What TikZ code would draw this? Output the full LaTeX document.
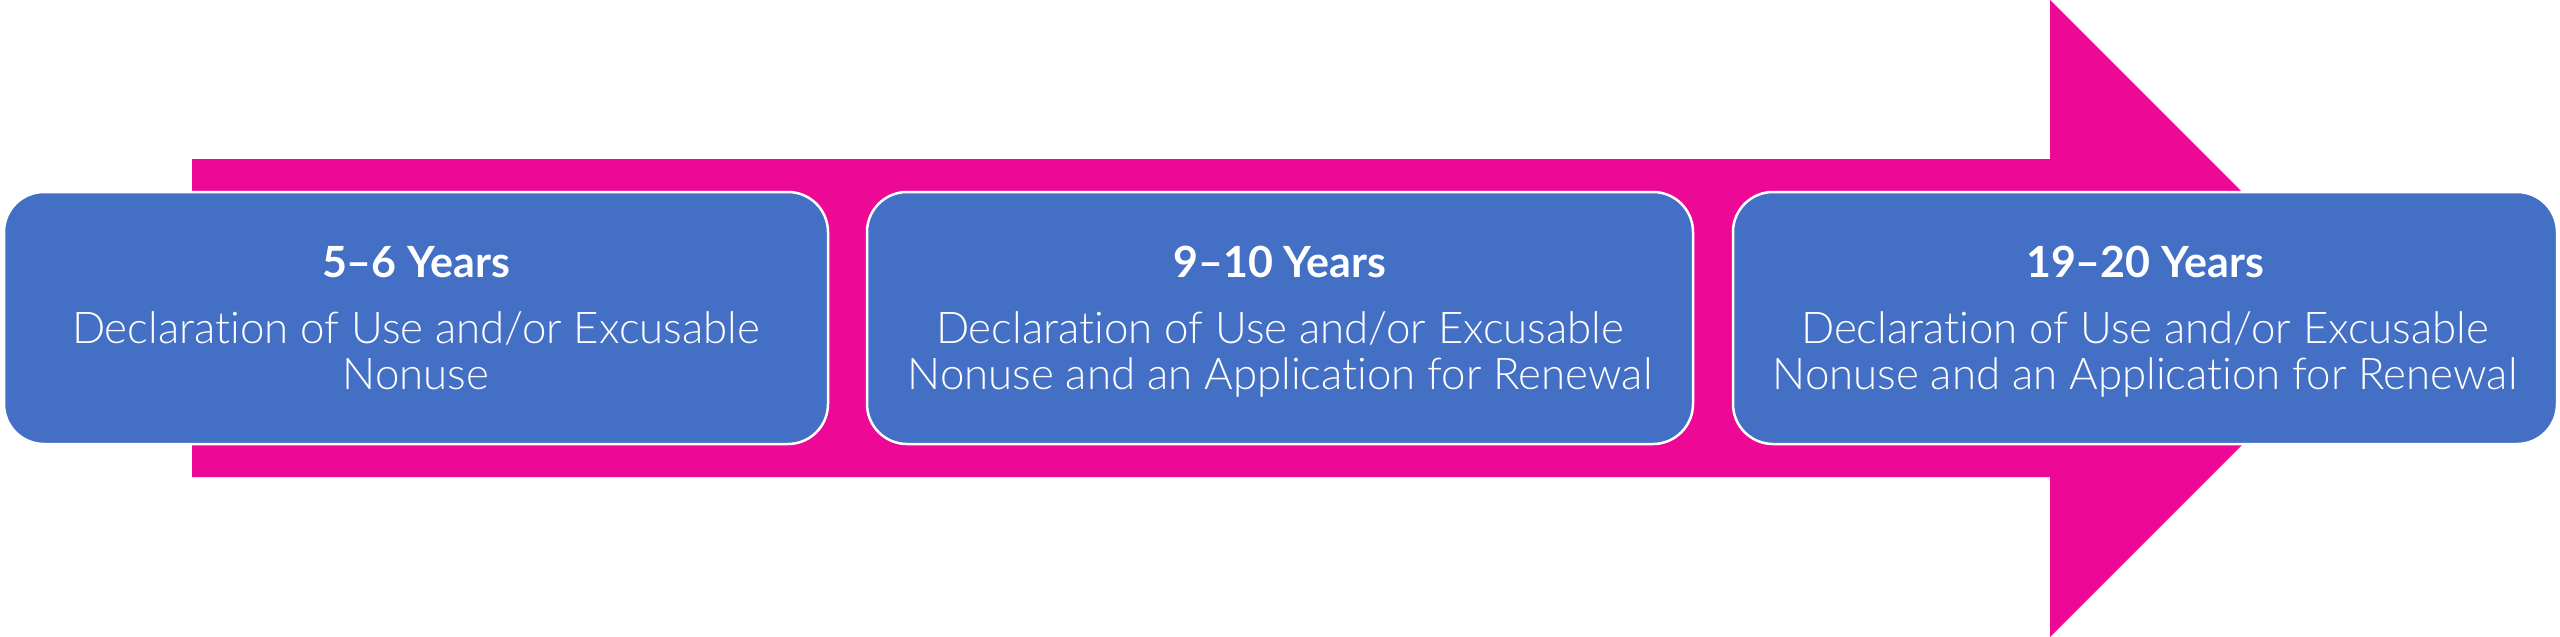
\documentclass[tikz,border=0pt]{standalone}
\usepackage{fontspec}
\setmainfont{Lato}[UprightFont=* Light, BoldFont=* Bold, Ligatures=NoCommon]
\definecolor{arrowpink}{HTML}{EE0896}
\definecolor{boxblue}{HTML}{4370C4}
\begin{document}
\begin{tikzpicture}[x=1pt,y=-1pt,
  stagebox/.style={draw=white,line width=2.5pt,fill=boxblue,rounded corners=40pt},
  titletext/.style={anchor=base,text=white,font=\fontsize{43}{46}\selectfont\bfseries,inner sep=0pt},
  bodytext/.style={anchor=base,text=white,font=\fontsize{43.8}{46}\selectfont,inner sep=0pt}]
\useasboundingbox (0,0) rectangle (2560,637);
% arrow
\fill[arrowpink] (192,159) -- (2050,159) -- (2050,0) -- (2368.5,318.5) -- (2050,637) -- (2050,477) -- (192,477) -- cycle;
% boxes
\draw[stagebox] (4,192) rectangle (828,444);
\draw[stagebox] (867,192) rectangle (1693,444);
\draw[stagebox] (1733,192) rectangle (2557,444);
% box 1
\node[titletext] (t1) at (416,277) {5–6 Years};
\node[bodytext] (a1) at (416,343) {Declaration of Use and/or Excusable};
\node[bodytext] (b1) at (416,389) {Nonuse};
% box 2
\node[titletext] (t2) at (1280,277) {9–10 Years};
\node[bodytext] (a2) at (1280,343) {Declaration of Use and/or Excusable};
\node[bodytext] (b2) at (1280,389) {Nonuse and an Application for Renewal};
% box 3
\node[titletext] (t3) at (2145,277) {19–20 Years};
\node[bodytext] (a3) at (2145,343) {Declaration of Use and/or Excusable};
\node[bodytext] (b3) at (2145,389) {Nonuse and an Application for Renewal};
\end{tikzpicture}
\end{document}
